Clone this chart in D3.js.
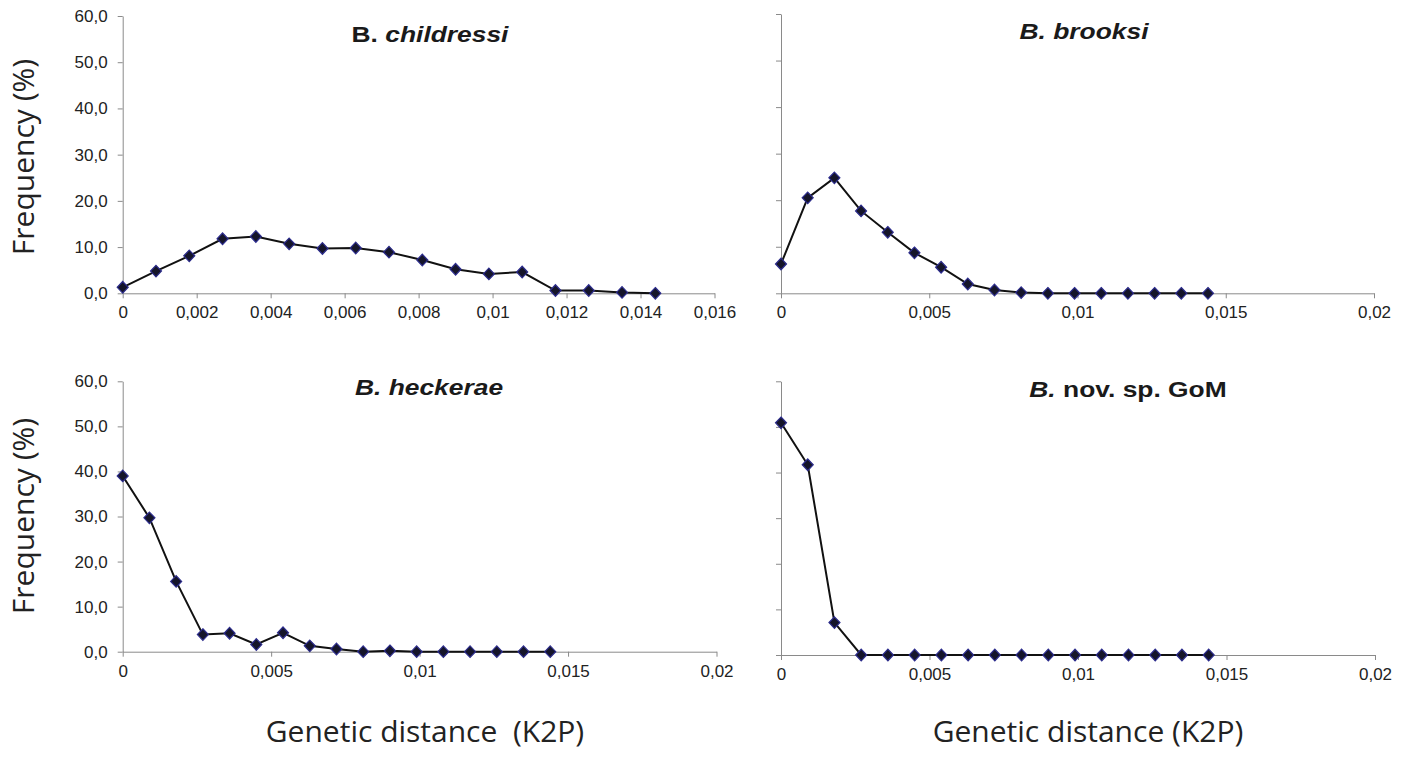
<!DOCTYPE html>
<html>
<head>
<meta charset="utf-8">
<script src="https://cdn.jsdelivr.net/npm/d3@7"></script>
<style>
  body { margin: 0; background: #fff; }
  svg { display: block; }
  .tick text { font-family: "Liberation Sans", Arial, sans-serif; font-size: 17px; fill: #222; }
  .axis path, .axis line { stroke: #8a8a8a; stroke-width: 1; }
  .axis-label { font-family: "Open Sans", "Noto Sans", sans-serif; font-size: 30px; fill: #222; }
  .panel-title { font-family: "Liberation Sans", Arial, sans-serif; font-size: 22px; font-weight: bold; fill: #1a1a1a; }
</style>
</head>
<body>
<div id="chart"></div>
<script>
// genetic distance bins (K2P), shared by all panels
var distances = [0, 0.0009, 0.0018, 0.0027, 0.0036, 0.0045, 0.0054, 0.0063, 0.0072,
                 0.0081, 0.009, 0.0099, 0.0108, 0.0117, 0.0126, 0.0135, 0.0144];

// frequency (%) per species
var childressi = [1.3, 4.8, 8.1, 11.8, 12.3, 10.7, 9.7, 9.8, 8.9, 7.2, 5.2, 4.2, 4.6, 0.6, 0.6, 0.2, 0.0];
var brooksi    = [6.3, 20.5, 24.8, 17.7, 13.1, 8.7, 5.6, 2.0, 0.7, 0.15, 0, 0, 0, 0, 0, 0, 0];
var heckerae   = [39.0, 29.7, 15.6, 3.8, 4.1, 1.6, 4.2, 1.3, 0.6, 0.0, 0.2, 0, 0, 0, 0, 0, 0];
var novsp      = [50.9, 41.7, 7.1, 0, 0, 0, 0, 0, 0, 0, 0, 0, 0, 0, 0, 0, 0];

// titles: [text, italic?] pieces
var titles = [
  [["B. ", false], ["childressi", true]],
  [["B. brooksi", true]],
  [["B. heckerae", true]],
  [["B.", true], [" nov. sp. GoM", false]]
];

var yTicks = [0, 10, 20, 30, 40, 50, 60];
var xTicksFine = [0, 0.002, 0.004, 0.006, 0.008, 0.01, 0.012, 0.014, 0.016];
var xTicksWide = [0, 0.005, 0.01, 0.015, 0.02];

var W = 1403, H = 757;

var svg = d3.select("#chart").append("svg")
    .attr("width", W)
    .attr("height", H);

var locale = d3.formatLocale({decimal: ",", thousands: ".", grouping: [3], currency: ["", ""]});
var fmtY = locale.format(".1f");
var fmtX = locale.format("~g");

// panel layout
var panels = [
  {data: childressi, title: titles[0], left: 122.7, right: 714.5, xmax: 0.016, xticks: xTicksFine, top: 16, bottom: 293.3, ylab: true, tx: 430, ty: 42},
  {data: brooksi,    title: titles[1], left: 781, right: 1374, xmax: 0.02, xticks: xTicksWide, top: 14, bottom: 293.3, ylab: false, tx: 1084, ty: 38.5},
  {data: heckerae,   title: titles[2], left: 122.7, right: 716.5, xmax: 0.02, xticks: xTicksWide, top: 381.3, bottom: 651.7, ylab: true, tx: 429, ty: 395},
  {data: novsp,      title: titles[3], left: 781, right: 1375, xmax: 0.02, xticks: xTicksWide, top: 381.3, bottom: 655, ylab: false, tx: 1128, ty: 396.5}
];

panels.forEach(function(p) {
  var x = d3.scaleLinear().domain([0, p.xmax]).range([p.left, p.right]);
  var y = d3.scaleLinear().domain([0, 60]).range([p.bottom, p.top]);

  var g = svg.append("g");

  // x axis
  g.append("g")
    .attr("class", "axis")
    .attr("transform", "translate(0," + p.bottom + ")")
    .call(d3.axisBottom(x).tickValues(p.xticks).tickFormat(fmtX).tickSize(5).tickSizeOuter(0).tickPadding(8));

  // y axis
  var yAxis = d3.axisLeft(y).tickValues(yTicks).tickSize(5).tickSizeOuter(0).tickPadding(10);
  if (p.ylab) yAxis.tickFormat(fmtY); else yAxis.tickFormat("");
  g.append("g")
    .attr("class", "axis")
    .attr("transform", "translate(" + p.left + ",0)")
    .call(yAxis);

  // line
  var pts = distances.map(function(d, i) { return [d, p.data[i]]; });
  g.append("path")
    .datum(pts)
    .attr("fill", "none")
    .attr("stroke", "#111")
    .attr("stroke-width", 2)
    .attr("d", d3.line().x(function(d) { return x(d[0]); }).y(function(d) { return y(d[1]); }));

  // diamond markers
  g.selectAll(".marker")
    .data(pts)
    .enter()
    .append("path")
      .attr("class", "marker")
      .attr("transform", function(d) { return "translate(" + x(d[0]) + "," + y(d[1]) + ")"; })
      .attr("d", "M0,-5.8L5.5,0L0,5.8L-5.5,0Z")
      .attr("fill", "#15152a")
      .attr("stroke", "#2c2c8c")
      .attr("stroke-width", 1.2);

  // title (the source figure is stretched horizontally)
  var t = g.append("text")
    .attr("class", "panel-title")
    .attr("transform", "translate(" + p.tx + "," + p.ty + ") scale(1.2,1)")
    .attr("text-anchor", "middle");
  p.title.forEach(function(piece) {
    t.append("tspan")
      .style("font-style", piece[1] ? "italic" : "normal")
      .attr("xml:space", "preserve")
      .text(piece[0]);
  });
});

// y axis labels
[157, 516].forEach(function(cy) {
  svg.append("text")
    .attr("class", "axis-label")
    .attr("transform", "translate(34," + cy + ") rotate(-90)")
    .attr("text-anchor", "middle")
    .text("Frequency (%)");
});

// x axis labels
svg.append("text")
  .attr("class", "axis-label")
  .attr("x", 425).attr("y", 742)
  .attr("text-anchor", "middle")
  .attr("xml:space", "preserve")
  .text("Genetic distance  (K2P)");
svg.append("text")
  .attr("class", "axis-label")
  .attr("x", 1088).attr("y", 742)
  .attr("text-anchor", "middle")
  .text("Genetic distance (K2P)");
</script>
</body>
</html>
